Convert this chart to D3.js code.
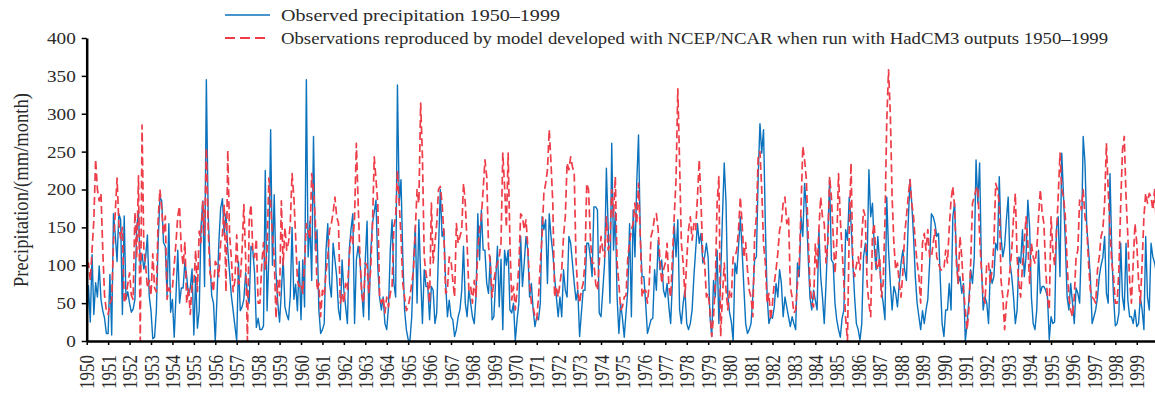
<!DOCTYPE html>
<html>
<head>
<meta charset="utf-8">
<script src="https://cdn.jsdelivr.net/npm/d3@7"></script>
<style>
  html, body { margin: 0; padding: 0; background: #fff; overflow: hidden; }
  svg { display: block; }
</style>
</head>
<body>
<svg id="chart" width="1155" height="394"></svg>
<script>
// Year labels along the time axis (one tick at each January)
const yearLabels = [
  "1950","1951","1952","1953","1954","1955","1956","1957","1958","1959",
  "1960","1961","1962","1963","1964","1965","1966","1967","1968","1969",
  "1970","1971","1972","1973","1974","1975","1976","1977","1978","1979",
  "1980","1981","1982","1983","1984","1985","1986","1987","1988","1989",
  "1990","1991","1992","1993","1994","1995","1996","1997","1998","1999"
];

// Precipitation axis ticks, mm/month
const yTicks = [0, 50, 100, 150, 200, 250, 300, 350, 400];

// Series names shown in the legend
const seriesNames = [
  "Observed precipitation 1950\u20131999",
  "Observations reproduced by model developed with NCEP/NCAR when run with HadCM3 outputs 1950\u20131999"
];

// Observed monthly precipitation, Jan 1950 – Dec 1999 (one row per year)
const observed = [
  15,73,25,114,35,77,58,99,55,40,30,10,
  10,88,8,168,140,105,168,160,35,165,55,65,
  50,38,42,55,150,170,100,115,95,110,140,60,
  40,3,5,40,130,190,185,130,125,60,155,38,
  55,5,60,120,50,70,70,105,85,60,70,95,
  8,85,17,40,150,185,72,345,170,105,60,50,
  0,60,130,175,188,140,168,120,90,60,40,20,
  0,105,40,45,55,90,60,50,125,120,90,18,
  30,15,15,20,225,40,110,279,100,193,90,50,
  25,65,110,45,35,28,60,150,55,75,40,105,
  28,107,45,345,111,158,80,270,120,147,41,10,
  15,23,120,155,76,58,129,107,85,41,28,107,
  67,45,23,120,147,168,23,107,125,107,67,32,
  107,158,28,116,155,170,186,98,58,41,58,23,
  15,45,120,160,76,58,338,182,213,111,41,15,
  2,0,32,103,151,50,160,85,23,94,72,72,
  28,72,67,23,37,120,200,138,147,76,32,54,
  32,28,6,15,32,41,67,125,50,32,67,50,
  32,23,58,168,107,173,120,120,76,63,111,28,
  32,80,125,45,108,15,120,100,120,41,37,50,
  0,28,50,138,72,103,138,120,58,76,41,19,
  32,28,50,164,147,160,76,168,138,116,85,58,
  32,58,32,94,67,58,138,129,103,76,54,67,
  6,37,67,67,129,129,111,85,177,177,173,37,
  32,67,103,228,150,50,261,120,170,58,10,50,
  30,5,37,67,155,32,173,111,208,272,138,85,
  85,50,10,19,28,30,94,67,133,94,107,67,
  58,76,45,23,80,155,111,160,41,23,50,67,
  23,15,23,41,85,120,155,129,142,103,111,129,
  110,32,6,80,58,120,23,85,164,235,182,60,
  37,25,0,103,89,125,164,120,70,23,10,15,
  23,58,107,111,217,287,248,279,155,60,23,32,
  30,45,76,58,94,76,32,58,45,32,19,32,
  23,15,103,85,164,138,208,173,111,58,41,67,
  54,41,147,85,58,23,76,138,213,107,103,50,
  28,15,5,30,41,147,133,190,155,103,58,23,
  15,1,23,111,129,103,226,164,182,125,94,138,
  103,67,50,28,190,120,76,41,72,63,45,76,
  103,120,94,80,155,213,182,138,85,50,32,15,
  40,23,41,55,103,168,164,155,138,142,80,23,
  6,41,41,76,41,164,182,111,76,85,63,76,
  0,23,54,94,76,110,239,182,235,100,41,58,
  50,23,94,76,85,129,120,217,138,111,125,160,
  190,103,85,58,23,41,111,103,147,85,111,186,
  150,58,23,15,41,120,63,72,72,67,58,2,
  32,23,25,147,164,85,248,190,129,58,41,76,
  50,23,70,63,50,129,270,235,150,120,85,23,
  32,41,58,85,100,110,138,63,50,221,120,58,
  20,23,37,129,58,41,129,54,32,32,23,41,
  19,23,58,41,15,138,58,41,129,111,103,90
];

// Model (NCEP/NCAR-trained, driven by HadCM3) monthly precipitation, Jan 1950 – Dec 1999
const modelled = [
  100,103,80,120,160,240,200,185,195,120,60,40,
  35,50,55,130,170,215,155,135,150,50,60,75,
  90,60,55,170,110,218,0,285,120,100,70,80,
  60,115,70,65,160,200,175,140,165,55,70,65,
  70,100,130,165,178,120,100,130,50,70,35,75,
  75,120,65,145,130,185,140,255,150,90,80,65,
  105,100,85,130,140,180,65,252,140,110,65,80,
  140,75,80,120,180,110,0,160,180,120,110,135,
  50,50,100,130,95,120,215,180,140,110,30,80,
  60,185,100,150,120,130,155,221,190,138,80,72,
  76,63,103,155,147,135,221,200,160,67,76,32,
  67,60,90,111,147,155,170,190,164,155,50,63,
  50,76,67,111,138,129,164,261,182,111,60,50,
  103,100,63,94,150,243,213,182,60,50,58,37,
  58,45,63,72,151,164,225,182,138,76,58,40,
  45,58,76,94,147,200,182,314,243,111,89,76,
  50,182,103,129,155,200,204,182,142,63,67,111,
  107,80,58,155,129,138,147,208,182,129,67,72,
  50,80,58,120,147,164,200,239,217,125,103,58,
  80,94,103,111,129,248,204,150,248,129,54,72,
  41,67,100,168,164,147,160,125,76,50,45,32,
  28,58,103,138,195,208,226,279,235,182,58,72,
  58,76,94,138,164,235,226,243,230,221,107,67,
  50,67,76,103,208,200,138,103,103,76,67,103,
  138,120,111,164,120,129,200,164,217,103,76,41,
  45,58,60,110,130,147,155,182,155,208,138,58,
  67,67,50,76,138,147,164,168,147,107,76,94,
  103,129,72,58,111,164,213,333,235,129,103,58,
  107,147,164,133,155,147,190,239,182,111,103,58,
  63,40,6,32,76,182,217,6,58,103,67,41,
  67,58,111,111,120,147,190,155,110,130,94,67,
  58,32,138,164,243,250,200,129,103,50,63,28,
  50,76,94,116,147,155,182,190,155,164,72,58,
  37,41,76,103,177,257,239,213,138,76,50,45,
  129,94,147,190,164,155,103,129,217,190,140,89,
  129,221,160,120,76,30,0,147,235,103,85,100,
  111,94,138,173,164,76,50,32,140,155,103,94,
  111,58,76,160,290,358,300,190,129,94,103,76,
  58,90,140,164,190,213,182,164,129,103,85,50,
  129,142,120,147,111,110,129,147,111,103,94,94,
  94,120,103,150,186,204,177,103,76,138,111,67,
  41,15,41,103,182,190,200,204,138,94,60,50,
  103,103,76,94,129,208,200,182,80,58,15,50,
  67,94,120,164,195,110,76,58,100,129,164,129,
  76,129,111,103,120,164,200,170,155,94,58,41,
  164,120,100,140,190,248,200,190,164,103,58,41,
  32,58,110,120,186,173,200,164,150,103,67,58,
  55,50,94,111,138,147,182,261,200,147,103,85,
  50,50,94,180,252,270,190,138,80,50,103,155,
  129,80,50,103,164,195,182,195,190,173,200,150
];

const svg = d3.select("#chart");
const FONT = "'Liberation Serif','Times New Roman',serif";
const TEXT = "#2a2a2a";
const BLUE = "#0b72bd";
const RED = "#ee3d48";
const SX = 1.2; // lettering is set slightly wide

// Month index scale (0 = Jan 1950) and precipitation scale
const x = d3.scaleLinear().domain([0, 600]).range([86.7, 1158.2]);
const y = d3.scaleLinear().domain([0, 400]).range([341, 38]);

const line = d3.line().x((d, i) => x(i)).y(d => y(d));

// Observed series (solid blue)
svg.append("path")
  .datum(observed)
  .attr("d", line)
  .attr("fill", "none")
  .attr("stroke", BLUE)
  .attr("stroke-width", 1.4)
  .attr("stroke-linejoin", "round");

// Modelled series (dashed red)
svg.append("path")
  .datum(modelled)
  .attr("d", line)
  .attr("fill", "none")
  .attr("stroke", RED)
  .attr("stroke-width", 1.7)
  .attr("stroke-dasharray", "8,4")
  .attr("stroke-linejoin", "round");

// Y axis
const yAxis = svg.append("g")
  .attr("transform", `translate(${x(0)},0)`)
  .call(d3.axisLeft(y).tickValues(yTicks).tickSize(5).tickSizeOuter(0).tickFormat(d3.format("d")));
yAxis.select(".domain").attr("stroke", "#000").attr("stroke-width", 2.5);
yAxis.selectAll(".tick line").attr("stroke", "#000").attr("stroke-width", 1.5);
yAxis.selectAll(".tick text")
  .attr("x", -11 / SX)
  .attr("dy", "0.34em")
  .attr("transform", `scale(${SX},1)`)
  .attr("fill", TEXT)
  .style("font-family", FONT)
  .style("font-size", "16px");

// X axis (one tick per year)
const monthTicks = yearLabels.map((_, i) => i * 12);
const xAxis = svg.append("g")
  .attr("transform", `translate(0,${y(0)})`)
  .call(d3.axisBottom(x).tickValues(monthTicks).tickSize(4).tickSizeOuter(0)
    .tickFormat((d, i) => yearLabels[i]));
xAxis.select(".domain").attr("stroke", "#000").attr("stroke-width", 2.5);
xAxis.selectAll(".tick line").attr("stroke", "#000").attr("stroke-width", 1.5);
xAxis.selectAll(".tick text")
  .attr("x", -14)
  .attr("y", 0)
  .attr("dy", "0.35em")
  .attr("text-anchor", "end")
  .attr("transform", `scale(${SX},1) rotate(-90)`)
  .attr("fill", TEXT)
  .style("font-family", FONT)
  .style("font-size", "17px");

// Y axis title
svg.append("text")
  .attr("transform", `translate(20,190) scale(${SX},1) rotate(-90)`)
  .attr("text-anchor", "middle")
  .attr("dy", "0.35em")
  .attr("textLength", 194)
  .attr("lengthAdjust", "spacingAndGlyphs")
  .attr("fill", TEXT)
  .style("font-family", FONT)
  .style("font-size", "18px")
  .text("Precipitation/(mm/month)");

// Legend
const legend = svg.append("g");
const legendRows = [
  { name: seriesNames[0], color: BLUE, dash: null, width: 1.4, y: 15, len: 279 },
  { name: seriesNames[1], color: RED, dash: "10,5", width: 1.8, y: 38, len: 827 }
];
legendRows.forEach(r => {
  legend.append("line")
    .attr("x1", 225).attr("x2", 270)
    .attr("y1", r.y).attr("y2", r.y)
    .attr("stroke", r.color)
    .attr("stroke-width", r.width)
    .attr("stroke-dasharray", r.dash);
  legend.append("text")
    .attr("x", 281)
    .attr("y", r.y + 6)
    .attr("textLength", r.len)
    .attr("lengthAdjust", "spacingAndGlyphs")
    .attr("fill", TEXT)
    .style("font-family", FONT)
    .style("font-size", "17px")
    .text(r.name);
});
</script>
</body>
</html>
